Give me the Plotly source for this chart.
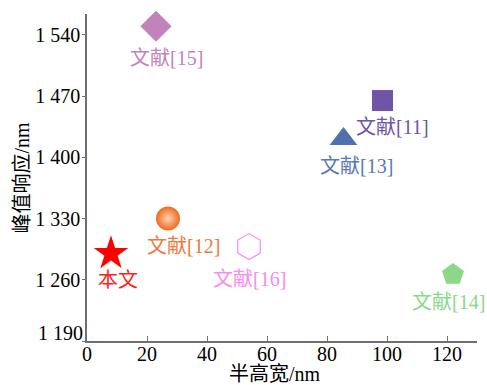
import plotly.graph_objects as go

# Comparison of full width at half maximum vs. peak response wavelength
names = ["本文", "文献[11]", "文献[12]", "文献[13]", "文献[14]", "文献[15]", "文献[16]"]
fwhm = [8, 98.5, 27, 85.5, 122, 23, 54]            # 半高宽 / nm
peak = [1290, 1465, 1330, 1421, 1266, 1550, 1298]  # 峰值响应 / nm

x_ticks = [0, 20, 40, 60, 80, 100, 120]
y_ticks = [1190, 1260, 1330, 1400, 1470, 1540]
y_tick_text = ["", "1 260", "1 330", "1 400", "1 470", "1 540"]
y_bottom_label = "1 190"
x_title = "半高宽/nm"
y_title = "峰值响应/nm"

# Marker styling per point
symbols = ["star", "square", "circle", "triangle-up", "pentagon", "diamond", "hexagon-open"]
colors = ["#ff0000", "#6e55a6", "#ee6a1c", "#5070b0", "#8ad88a", "#c283bb", "#f78cf2"]
label_colors = ["#ff2020", "#6e55a6", "#ec7a3e", "#5a78b4", "#8ad88a", "#c283bb", "#f78cf2"]
sizes = [26, 21, 24, 24, 23, 24, 26]
# label offsets from marker centre, in pixels (right, down)
label_dx = [7, 10, 15, 13, -5, 10, 0]
label_dy = [26, 26, 27, 27, 27, 32, 32]

serif = "Liberation Serif, Times New Roman, Noto Sans CJK SC, serif"

fig = go.Figure()
for i in range(len(names)):
    marker = dict(symbol=symbols[i], size=sizes[i], color=colors[i],
                  line=dict(width=0, color=colors[i]))
    if symbols[i].endswith("open"):
        marker["line"] = dict(width=1.2, color=colors[i])
    if symbols[i] == "circle":
        marker["gradient"] = dict(type="radial", color="#fbd2b4")
    fig.add_trace(go.Scatter(x=[fwhm[i]], y=[peak[i]], mode="markers",
                             marker=marker, showlegend=False, cliponaxis=False))
    fig.add_annotation(x=fwhm[i], y=peak[i], text=names[i], showarrow=False,
                       xanchor="center", yanchor="middle",
                       xshift=label_dx[i], yshift=-label_dy[i],
                       font=dict(family=serif, size=20, color=label_colors[i]))

# x tick labels set close under the axis line
for xv in x_ticks:
    fig.add_annotation(x=xv, xref="x", y=0, yref="paper", text=str(xv),
                       showarrow=False, xanchor="center", yanchor="top",
                       yshift=0, font=dict(family=serif, size=20, color="black"))

# bottom y tick label sits a little higher so it clears the x-axis "0"
fig.add_annotation(x=0, xref="paper", y=y_ticks[0], yref="y", text=y_bottom_label,
                   showarrow=False, xanchor="right", yanchor="middle",
                   xshift=-2, yshift=8, font=dict(family=serif, size=20, color="black"))

# axis titles
fig.add_annotation(x=0.5, xref="paper", y=0, yref="paper", text=x_title,
                   showarrow=False, xanchor="center", yanchor="middle",
                   xshift=-7, yshift=-33, font=dict(family=serif, size=20, color="black"))
fig.add_annotation(x=0, xref="paper", y=0.5, yref="paper", text=y_title,
                   showarrow=False, xanchor="center", yanchor="middle", textangle=-90,
                   xshift=-66, yshift=0, font=dict(family=serif, size=20, color="black"))

axis_color = "#707070"
fig.update_layout(
    width=487, height=385,
    margin=dict(l=87, r=10, t=14, b=44),
    paper_bgcolor="white", plot_bgcolor="white",
    font=dict(family=serif, size=20, color="black"),
    xaxis=dict(
        range=[0, 130], tickvals=x_ticks, ticks="inside", ticklen=5,
        tickcolor=axis_color, tickwidth=1.2, showticklabels=False,
        showline=True, linecolor=axis_color, linewidth=1.5,
        showgrid=False, zeroline=False, automargin=False,
    ),
    yaxis=dict(
        range=[1190, 1564], tickvals=y_ticks, ticktext=y_tick_text,
        ticks="outside", ticklen=3, tickcolor=axis_color, tickwidth=1.2,
        showline=True, linecolor=axis_color, linewidth=1.5,
        showgrid=False, zeroline=False, automargin=False,
        tickfont=dict(size=20), ticklabelstandoff=-2,
    ),
)

fig.write_html("out.html")
